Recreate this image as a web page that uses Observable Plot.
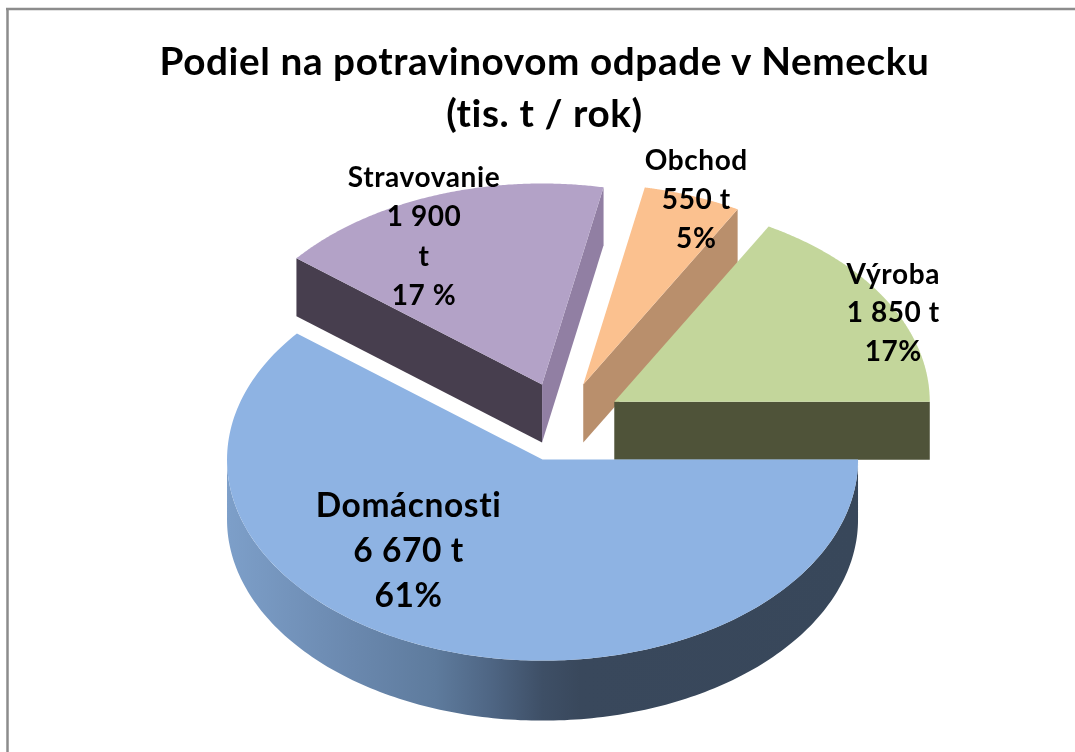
<!DOCTYPE html>
<html>
<head>
<meta charset="utf-8">
<script src="https://cdn.jsdelivr.net/npm/d3@7"></script>
<script src="https://cdn.jsdelivr.net/npm/@observablehq/plot@0.6"></script>
<style>html,body{margin:0;padding:0;background:#fff;overflow:hidden}svg{display:block}</style>
</head>
<body>
<div id="chart"></div>
<script>
// --- data
const categories = ["Domácnosti", "Stravovanie", "Obchod", "Výroba"];
const values = [6670, 1900, 550, 1850];
const labels = ["Domácnosti\n6 670 t\n61%", "Stravovanie\n1 900\nt\n17 %", "Obchod\n550 t\n5%", "Výroba\n1 850 t\n17%"];
const titleLines = "Podiel na potravinovom odpade v Nemecku\n(tis. t / rok)";

// --- styles
const topFill = ["#8eb3e3", "#b3a2c7", "#fbc18f", "#c3d69b"];
const startWall = [null, "#473e4e", null, null];
const endWall = [null, "#917fa3", "#b98f6c", "#4f5339"];
const labelSize = [33.5, 28, 28, 28];
const labelLead = [1.34, 1.4, 1.38, 1.38];
const labelShift = [[-134, 88], [-118, -151], [113, -188], [279, -92]];

// --- layout of the 3D pie
const W = 1075, H = 752;
const cx = 562, cy = 421.5, rx = 315.5, ry = 201, depth = 58, explode = 60, explodeY = 0.665;

const arcs = d3.pie().sort(null).startAngle(0).endAngle(2 * Math.PI)(values);
const slices = arcs.map((a, i) => {
  const mid = (a.startAngle + a.endAngle) / 2;
  return {
    i, t0: a.startAngle, t1: a.endAngle,
    ax: cx + explode * Math.cos(mid),
    ay: cy + explode * explodeY * Math.sin(mid)
  };
});
const rimPt = (s, t, dz = 0) => ({x: s.ax + rx * Math.cos(t), y: s.ay + ry * Math.sin(t) + dz});
const arcPts = (s, t0, t1, dz = 0) => d3.range(0, 181).map(k => rimPt(s, t0 + (t1 - t0) * k / 180, dz));

const topFace = s => [{x: s.ax, y: s.ay}, ...arcPts(s, s.t0, s.t1)];
const wall = (s, t) => [{x: s.ax, y: s.ay}, rimPt(s, t), rimPt(s, t, depth), {x: s.ax, y: s.ay + depth}];
const rim = s => [...arcPts(s, 0, Math.PI), ...arcPts(s, Math.PI, 0, depth + 2)];

const face = (pts, fill) => Plot.line(pts, {x: "x", y: "y", fill, stroke: "none"});

// back to front: Stravovanie, Obchod, Výroba, Domácnosti
const order = [1, 2, 3, 0];
const faces = order.flatMap(i => {
  const s = slices[i], out = [];
  if (startWall[i]) out.push(face(wall(s, s.t0), startWall[i]));
  if (endWall[i]) out.push(face(wall(s, s.t1 % (2 * Math.PI)), endWall[i]));
  if (i === 0) out.push(face(rim(s), "url(#rimShade)"));
  out.push(face(topFace(s), topFill[i]));
  return out;
});

const labelRows = slices.map((s, i) => ({
  text: labels[i], x: s.ax + labelShift[i][0], y: s.ay + labelShift[i][1], size: labelSize[i], lead: labelLead[i]
}));
const font = "Lato, Carlito, sans-serif";

const plot = Plot.plot({
  width: W, height: H,
  margin: 0,
  style: {background: "#fff", fontFamily: font, letterSpacing: "0.6px", filter: "blur(0.45px)"},
  x: {domain: [0, W], range: [0, W], axis: null},
  y: {domain: [0, H], range: [0, H], axis: null},
  marks: [
    Plot.ruleY([8.5], {x1: 6, x2: W, stroke: "#8c8c8c", strokeWidth: 2.5}),
    Plot.ruleX([7], {y1: 8, y2: H, stroke: "#8c8c8c", strokeWidth: 2.5}),
    ...faces,
    ...labelRows.map(r => Plot.text([r], {
      x: "x", y: "y", text: "text", fontSize: r.size, lineHeight: r.lead,
      fontWeight: 700, fill: "#000", textAnchor: "middle"
    })),
    Plot.text([titleLines], {
      x: [544], y: [84], text: d => d, fontSize: 38.7, lineHeight: 1.35,
      fontWeight: 700, fill: "#000", textAnchor: "middle"
    })
  ]
});

// horizontal shading of the front rim
const defs = d3.select(plot).append("defs");
const grad = defs.append("linearGradient").attr("id", "rimShade");
[[0, "#7d9fc9"], [0.2, "#6a88ae"], [0.33, "#5e7b9d"], [0.42, "#4e6583"], [0.5, "#3e4f66"], [0.56, "#39485c"], [1, "#38475a"]]
  .forEach(([o, c]) => grad.append("stop").attr("offset", o).attr("stop-color", c));

document.getElementById("chart").append(plot);
</script>
</body>
</html>
